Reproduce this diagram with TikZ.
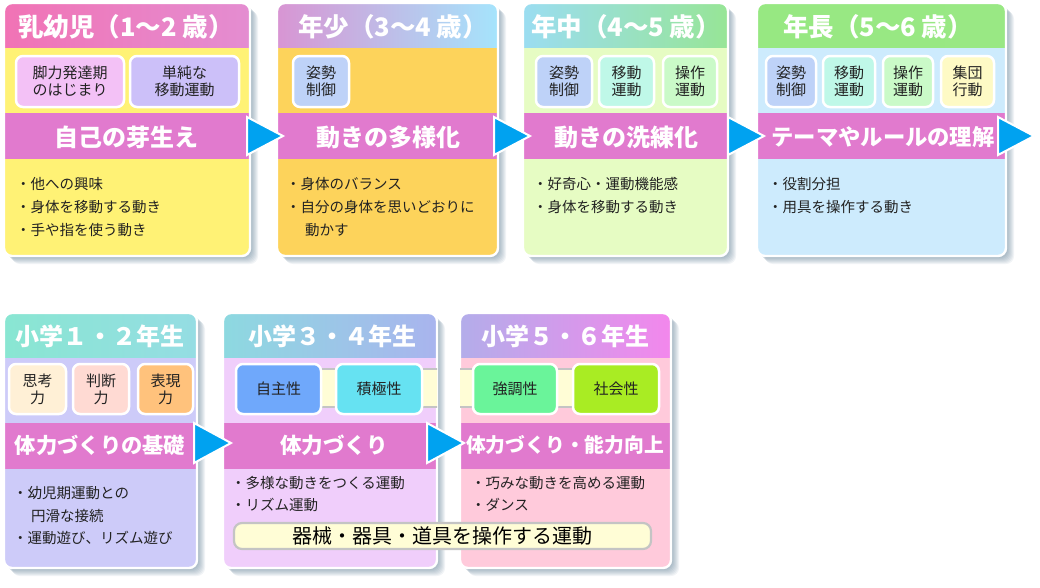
\documentclass[tikz,border=0pt]{standalone}
\usepackage{fontspec}
\setmainfont{Noto Sans CJK JP}
\usetikzlibrary{calc}
\definecolor{bandc}{HTML}{E17ACE}
\definecolor{arrowc}{HTML}{00A2F0}
\definecolor{shadowc}{HTML}{3F6580}
\definecolor{txt}{HTML}{222222}
\definecolor{barfill}{HTML}{FFFDD6}
\definecolor{bargray}{HTML}{C4C4C4}
\definecolor{hAl}{HTML}{F173B5}\definecolor{hAr}{HTML}{E48DD1}
\definecolor{hBl}{HTML}{D895D3}\definecolor{hBr}{HTML}{A5E4FC}
\definecolor{hCl}{HTML}{9BDDF1}\definecolor{hCr}{HTML}{97E596}
\definecolor{hDl}{HTML}{97E882}\definecolor{hDr}{HTML}{99E884}
\definecolor{hEl}{HTML}{89E6D2}\definecolor{hEr}{HTML}{95DDE3}
\definecolor{hFl}{HTML}{8DD9E0}\definecolor{hFr}{HTML}{A9B4EE}
\definecolor{hGl}{HTML}{B3ADEA}\definecolor{hGr}{HTML}{F387EC}
\definecolor{bA}{HTML}{FFF275}\definecolor{bB}{HTML}{FDD35B}
\definecolor{bC}{HTML}{E6FCC3}\definecolor{bD}{HTML}{CDEBFD}
\definecolor{bE}{HTML}{CDCBF9}\definecolor{bF}{HTML}{F0CEFB}
\definecolor{bG}{HTML}{FFCADB}
\definecolor{cpink}{HTML}{F3C1F6}\definecolor{clav}{HTML}{CCC0F9}
\definecolor{cblue}{HTML}{BED2F8}\definecolor{cmint}{HTML}{BFF8E8}
\definecolor{cgreen}{HTML}{CAFAC8}\definecolor{cyel}{HTML}{FEFAC5}
\definecolor{ccream}{HTML}{FFF0D6}\definecolor{cpeach}{HTML}{FFDAD3}
\definecolor{corange}{HTML}{FFC27C}\definecolor{cbluedeep}{HTML}{6FA8FB}
\definecolor{ccyan}{HTML}{66E2F2}\definecolor{cgreentwo}{HTML}{6AF49A}
\definecolor{clime}{HTML}{A9EC23}

\newcommand\panelbg[7]{%
  \foreach \k in {1,...,8}{\fill[shadowc,opacity=0.07,rounded corners=8pt] (#1+\k,#2+\k) rectangle (#3+\k,#4+\k);}
  \begin{scope}
    \clip[rounded corners=8pt] (#1,#2) rectangle (#3,#4);
    \fill[#7] (#1,#2) rectangle (#3,#4);
    \shade[left color=#5,right color=#6] (#1,#2) rectangle (#3,#2+44);
    \fill[bandc] (#1,#2+110) rectangle (#3,#2+156);
  \end{scope}
  \draw[white,line width=2.4pt,rounded corners=8pt] (#1,#2) rectangle (#3,#4);
}
\newcommand\chip[7]{%
  \node[chipbox,fill=#6,minimum width=#3pt-#2pt-2pt,minimum height=#5pt-#4pt-2pt] (#1) at ({(#2+#3)/2},{(#4+#5)/2}) {#7};}
\newcommand\midband[4]{%
  \begin{scope}
    \clip[rounded corners=8pt] (#1,#2) rectangle (#3,#4);
    \fill[barfill] (300,369) rectangle (620,407);
    \draw[bargray,line width=2pt] (300,369) -- (620,369) (300,407) -- (620,407);
  \end{scope}}

\tikzset{
  chipbox/.style={draw=white,line width=2.5pt,rounded corners=7pt,inner sep=0pt,align=center,text=txt,font=\fontsize{15}{17}\selectfont},
  hdr/.style={text=white,inner sep=0pt,font=\bfseries\fontsize{25.5}{28}\selectfont},
  hdrb/.style={text=white,inner sep=0pt,font=\bfseries\fontsize{24}{26}\selectfont},
  bandtxt/.style={text=white,inner sep=0pt,font=\bfseries\fontsize{24}{26}\selectfont},
  bul/.style={anchor=west,inner sep=0pt,text=txt,font=\fontsize{14.5}{17}\selectfont},
  arr/.style={draw=white,line width=2pt,fill=arrowc,line join=miter},
}

\begin{document}
\begin{tikzpicture}[x=1pt,y=-1pt]
\useasboundingbox (0,0) rectangle (1040,587);
\fill[white] (0,0) rectangle (1040,587);

% ---------- top row ----------
\panelbg{4}{3}{250}{256}{hAl}{hAr}{bA}
\node[hdr] (h1) at (126,27) {乳幼児（1～2 歳）};
\chip{c1a}{15}{125}{55}{108}{cpink}{脚力発達期\\のはじまり}
\chip{c1b}{129}{240}{55}{108}{clav}{単純な\\移動運動}
\node[bandtxt] (t1) at (126,137) {自己の芽生え};
\node[bul] (l1a) at (16,184) {・他への興味};
\node[bul] (l1b) at (16,207) {・身体を移動する動き};
\node[bul] (l1c) at (16,230) {・手や指を使う動き};

\panelbg{277}{3}{498}{256}{hBl}{hBr}{bB}
\node[hdr] (h2) at (393,27) {年少（3～4 歳）};
\chip{c2a}{292}{350}{55}{108}{cblue}{姿勢\\制御}
\node[bandtxt] (t2) at (388,137) {動きの多様化};
\node[bul] (l2a) at (286,184) {・身体のバランス};
\node[bul] (l2b) at (286,207) {・自分の身体を思いどおりに};
\node[bul] (l2c) at (305,230) {動かす};

\panelbg{523}{3}{728}{256}{hCl}{hCr}{bC}
\node[hdr] (h3) at (626,27) {年中（4～5 歳）};
\chip{c3a}{535}{593}{55}{108}{cblue}{姿勢\\制御}
\chip{c3b}{598}{655}{55}{108}{cmint}{移動\\運動}
\chip{c3c}{662}{718}{55}{108}{cgreen}{操作\\運動}
\node[bandtxt] (t3) at (626,137) {動きの洗練化};
\node[bul] (l3a) at (533,184) {・好奇心・運動機能感};
\node[bul] (l3b) at (533,207) {・身体を移動する動き};

\panelbg{757}{3}{1006}{256}{hDl}{hDr}{bD}
\node[hdr] (h4) at (878,27) {年長（5～6 歳）};
\chip{c4a}{765}{817}{55}{108}{cblue}{姿勢\\制御}
\chip{c4b}{822}{876}{55}{108}{cmint}{移動\\運動}
\chip{c4c}{882}{934}{55}{108}{cgreen}{操作\\運動}
\chip{c4d}{940}{995}{55}{108}{cyel}{集団\\行動}
\node[bandtxt,font=\bfseries\fontsize{22.3}{26}\selectfont] (t4) at (883,137) {テーマやルールの理解};
\node[bul] (l4a) at (768,184) {・役割分担};
\node[bul] (l4b) at (768,207) {・用具を操作する動き};

% ---------- bottom row ----------
\panelbg{4}{313}{197}{568}{hEl}{hEr}{bE}
\node[hdrb] (h5) at (100,336) {小学１・２年生};
\chip{c5a}{8}{67}{363}{415}{ccream}{思考\\力}
\chip{c5b}{72}{130}{363}{415}{cpeach}{判断\\力}
\chip{c5c}{137}{194}{363}{415}{corange}{表現\\力}
\node[bandtxt,font=\bfseries\fontsize{21.3}{26}\selectfont] (t5) at (100,445) {体力づくりの基礎};
\node[bul] (l5a) at (13,493) {・幼児期運動との};
\node[bul] (l5b) at (31,516) {円滑な接続};
\node[bul] (l5c) at (13,538) {・運動遊び、リズム遊び};

\panelbg{223}{313}{437}{568}{hFl}{hFr}{bF}
\panelbg{460}{313}{671}{568}{hGl}{hGr}{bG}
\midband{223}{313}{437}{568}
\midband{460}{313}{671}{568}

\node[hdrb] (h6) at (332,336) {小学３・４年生};
\chip{c6a}{235}{322}{363}{415}{cbluedeep}{自主性}
\chip{c6b}{335}{423}{363}{415}{ccyan}{積極性}
\node[bandtxt,font=\bfseries\fontsize{21.6}{26}\selectfont] (t6) at (334,445) {体力づくり};
\node[bul] (l6a) at (231,483) {・多様な動きをつくる運動};
\node[bul] (l6b) at (231,505) {・リズム運動};

\node[hdrb] (h7) at (565,336) {小学５・６年生};
\chip{c7a}{472}{558}{363}{415}{cgreentwo}{強調性}
\chip{c7b}{572}{660}{363}{415}{clime}{社会性}
\node[bandtxt,font=\bfseries\fontsize{19.8}{26}\selectfont] (t7) at (565,445) {体力づくり・能力向上};
\node[bul] (l7a) at (471,483) {・巧みな動きを高める運動};
\node[bul] (l7b) at (471,505) {・ダンス};

\node[draw=bargray,fill=barfill,line width=2.2pt,rounded corners=8pt,minimum width=417pt,minimum height=26pt,inner sep=0pt,text=black,font=\fontsize{20}{22}\selectfont] (bar) at (442.5,536) {器械・器具・道具を操作する運動};

% ---------- arrows ----------
\coordinate (a1) at (247,136);
\coordinate (a2) at (494,136);
\coordinate (a3) at (728,136);
\coordinate (a4) at (998,136);
\coordinate (a5) at (194,443);
\coordinate (a6) at (427,443);
\foreach \a in {a1,a2,a3,a4}{\draw[arr] (\a) ++(0,-19) -- ++(36,19) -- ++(-36,19) -- cycle;}
\foreach \a in {a5,a6}{\draw[arr] (\a) ++(0,-20) -- ++(37,20) -- ++(-37,20) -- cycle;}
\end{tikzpicture}
\end{document}
